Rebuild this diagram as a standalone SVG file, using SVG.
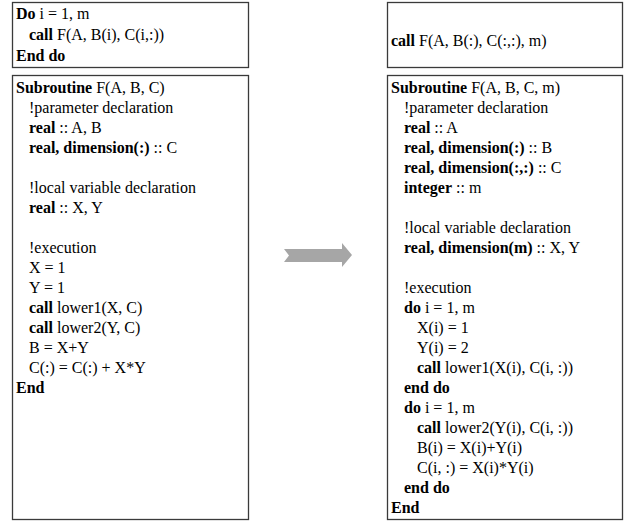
<svg xmlns="http://www.w3.org/2000/svg" width="626" height="523" viewBox="0 0 626 523">
<style>
.box{fill:#fff;stroke:#3a3a3a;stroke-width:1.3}
text{font-family:"Liberation Serif","Times New Roman",serif;font-size:16px;fill:#000}
.b{font-weight:bold}
</style>
<rect width="626" height="523" fill="#fff"/>
<g id="loop-box">
<rect class="box" x="12.5" y="2.5" width="236" height="65"/>
<text x="16" y="19"><tspan class="b">Do</tspan> i = 1, m</text>
<text x="29" y="40"><tspan class="b">call</tspan> F(A, B(i), C(i,:))</text>
<text x="16" y="61" class="b">End do</text>
</g>
<g id="sub-old">
<rect class="box" x="12.5" y="75.5" width="236" height="444"/>
<text x="16" y="93"><tspan class="b">Subroutine</tspan> F(A, B, C)</text>
<text x="29" y="113">!parameter declaration</text>
<text x="29" y="133"><tspan class="b">real</tspan> :: A, B</text>
<text x="29" y="153"><tspan class="b">real, dimension(:)</tspan> :: C</text>
<text x="29" y="193">!local variable declaration</text>
<text x="29" y="213"><tspan class="b">real</tspan> :: X, Y</text>
<text x="29" y="253">!execution</text>
<text x="29" y="273">X = 1</text>
<text x="29" y="293">Y = 1</text>
<text x="29" y="313"><tspan class="b">call</tspan> lower1(X, C)</text>
<text x="29" y="333"><tspan class="b">call</tspan> lower2(Y, C)</text>
<text x="29" y="353">B = X+Y</text>
<text x="29" y="373">C(:) = C(:) + X*Y</text>
<text x="16" y="393" class="b">End</text>
</g>
<g id="call-box">
<rect class="box" x="387.5" y="2.5" width="235" height="65"/>
<text x="391" y="46"><tspan class="b">call</tspan> F(A, B(:), C(:,:), m)</text>
</g>
<g id="sub-new">
<rect class="box" x="387.5" y="75.5" width="235" height="444"/>
<text x="391" y="93"><tspan class="b">Subroutine</tspan> F(A, B, C, m)</text>
<text x="404" y="113">!parameter declaration</text>
<text x="404" y="133"><tspan class="b">real</tspan> :: A</text>
<text x="404" y="153"><tspan class="b">real, dimension(:)</tspan> :: B</text>
<text x="404" y="173"><tspan class="b">real, dimension(:,:)</tspan> :: C</text>
<text x="404" y="193"><tspan class="b">integer</tspan> :: m</text>
<text x="404" y="233">!local variable declaration</text>
<text x="404" y="253"><tspan class="b">real, dimension(m)</tspan> :: X, Y</text>
<text x="404" y="293">!execution</text>
<text x="404" y="313"><tspan class="b">do</tspan> i = 1, m</text>
<text x="417" y="333">X(i) = 1</text>
<text x="417" y="353">Y(i) = 2</text>
<text x="417" y="373"><tspan class="b">call</tspan> lower1(X(i), C(i, :))</text>
<text x="404" y="393" class="b">end do</text>
<text x="404" y="413"><tspan class="b">do</tspan> i = 1, m</text>
<text x="417" y="433"><tspan class="b">call</tspan> lower2(Y(i), C(i, :))</text>
<text x="417" y="453">B(i) = X(i)+Y(i)</text>
<text x="417" y="473">C(i, :) = X(i)*Y(i)</text>
<text x="404" y="493" class="b">end do</text>
<text x="391" y="513" class="b">End</text>
</g>
<g id="connectors">
<polygon points="284,249 342,249 342,243 352,255 342,267 342,262 284,262 289,255.5" fill="#a6a6a6"/>
</g>
</svg>
